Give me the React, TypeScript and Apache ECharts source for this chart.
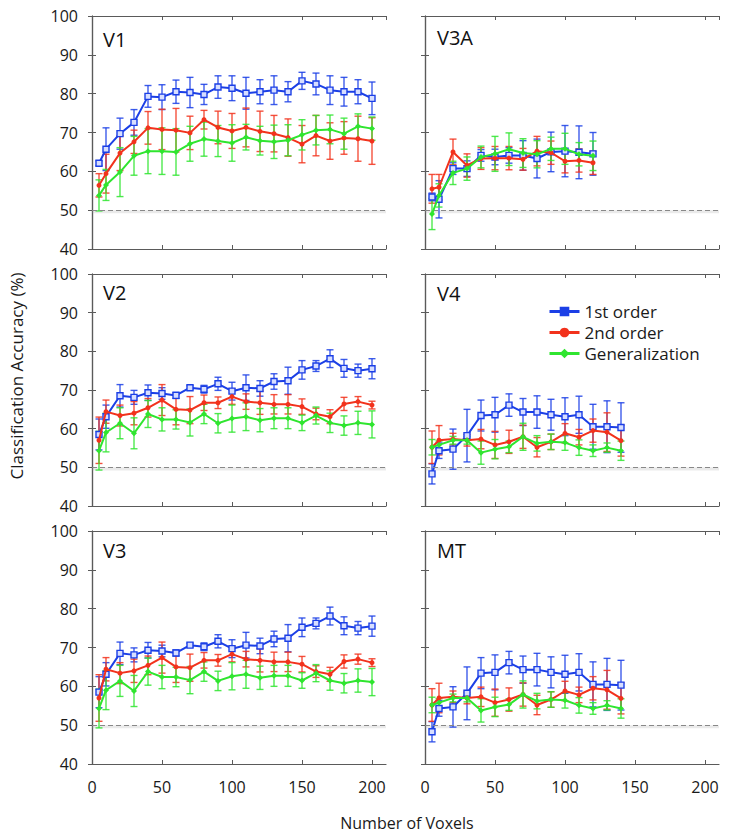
import React, { useEffect, useRef } from "react";
import * as echarts from "echarts";

// x values (number of voxels)
const xFull = [5, 10, 20, 30, 40, 50, 60, 70, 80, 90, 100, 110, 120, 130, 140, 150, 160, 170, 180, 190, 200];
const xV3A = xFull.slice(0, 13);
const xV4 = xFull.slice(0, 15);

const chanceLevel = 50;

const seriesNames = ["1st order", "2nd order", "Generalization"];
const panelNames = ["V1", "V3A", "V2", "V4", "V3", "MT"];

// V1
const v1Blue = [62.1, 65.7, 69.7, 72.6, 79.3, 79.1, 80.5, 80.3, 79.8, 81.7, 81.4, 80.1, 80.5, 80.9, 80.5, 83.3, 82.5, 80.9, 80.5, 80.5, 78.8];
const v1BlueErr = [0.6, 5.5, 4, 3.3, 2.8, 3.2, 3, 3.9, 2.6, 2.9, 3.2, 4.1, 3.1, 3.7, 2.6, 2.2, 2.8, 3.7, 3.7, 3.1, 4.2];
const v1Red = [56.4, 59.4, 64.7, 67.6, 71.2, 70.8, 70.6, 69.9, 73.3, 71.3, 70.4, 71.3, 70.3, 69.7, 68.7, 67, 69.2, 67.8, 68.6, 68.4, 67.8];
const v1RedErr = [3, 5, 4.5, 3, 4.2, 5.2, 5.6, 4.3, 2.4, 4.2, 4.5, 5, 5.2, 4.7, 4.8, 4.8, 5.2, 4.7, 4.2, 5.8, 6];
const v1Green = [53.8, 56.5, 59.8, 64, 65.2, 65.2, 65, 67.1, 68.3, 67.8, 67.3, 68.8, 67.9, 67.6, 68, 69.4, 70.6, 70.8, 69.7, 71.6, 71];
const v1GreenErr = [4, 4, 6.3, 5, 5.8, 6, 6, 4.5, 4.4, 4, 4.7, 3.3, 3.7, 4.3, 4, 3.9, 3.8, 3.7, 4, 3.2, 3];

// V3A
const v3aBlue = [53.4, 52.8, 60.7, 60.7, 64.1, 63.7, 64.1, 64.1, 63.3, 65, 65.2, 64.9, 64.5];
const v3aBlueErr = [1, 4.8, 1.5, 2, 1.5, 2, 2, 3.8, 5, 5.1, 6.6, 6.8, 5.5];
const v3aRed = [55.5, 55.9, 65, 61.5, 63.3, 63.4, 63.4, 63.1, 65.2, 64.8, 62.6, 62.8, 62.2];
const v3aRedErr = [3.7, 3.3, 3.3, 3, 2.8, 3, 3, 2.8, 3.8, 3, 3, 3, 3];
const v3aGreen = [49, 53.8, 59.6, 60.7, 63.7, 64.5, 65.7, 64.7, 64.4, 65.8, 65.8, 64.4, 64];
const v3aGreenErr = [4, 3, 3, 3, 2.8, 4.5, 4.2, 3.7, 3.5, 3, 4, 3, 3.8];

// V2
const v2Blue = [58.5, 63.1, 68.5, 68.1, 69.3, 69.1, 68.6, 70.6, 70.2, 71.6, 69.7, 70.6, 70.4, 72.2, 72.4, 75.2, 76.2, 78.1, 75.6, 75, 75.5];
const v2BlueErr = [4, 3, 2.9, 1.8, 2, 1.5, 0.8, 0.5, 1, 1.7, 2.3, 3.3, 2, 2, 3.5, 2.4, 1.4, 2.3, 2.3, 1.7, 2.6];
const v2Red = [57, 64.4, 63.4, 64, 65.4, 67.4, 65, 64.8, 66.7, 66.7, 68.3, 67, 66.7, 66.3, 66.3, 65.7, 63.8, 63.1, 66.4, 67, 66.1];
const v2RedErr = [6, 3, 2.7, 3, 2.4, 4, 4, 3.5, 2, 1.5, 2, 2, 3, 2.5, 2.5, 2, 1.5, 1.8, 1.7, 1.3, 1];
const v2Green = [54.3, 59, 61.4, 58.8, 63.8, 62.4, 62.4, 61.6, 63.8, 61.4, 62.6, 63.1, 62.2, 62.7, 62.7, 61.5, 63.4, 61.5, 60.8, 61.5, 61.1];
const v2GreenErr = [5, 5, 4, 4, 3.5, 3, 2.5, 3.5, 2.5, 2.5, 3.5, 3.6, 3, 2.7, 2.7, 2, 2.2, 2.5, 2.5, 3, 3.5];

// V4
const v4Blue = [48.3, 54.3, 54.7, 58.2, 63.4, 63.6, 66.1, 64.3, 64.3, 63.6, 63.1, 63.6, 60.5, 60.5, 60.3];
const v4BlueErr = [2.6, 2, 5.2, 6.8, 4, 4.5, 2.9, 3.5, 4.2, 4, 4.9, 4.8, 5.8, 6.7, 6.4];
const v4Red = [55.2, 57, 57.3, 57, 57.3, 55.8, 56.6, 57.9, 55.2, 56.6, 58.8, 57.8, 59.5, 59.1, 56.9];
const v4RedErr = [4.2, 3.8, 1.5, 1.5, 2.5, 3.5, 3, 3, 2.5, 2, 2.5, 2, 3, 5, 4];
const v4Green = [55.2, 55.8, 57, 57, 53.8, 54.7, 55.3, 57.9, 56.2, 56.6, 56.4, 55.1, 54.3, 55.1, 54.3];
const v4GreenErr = [2, 1, 1, 1, 3, 2.5, 1.5, 3.5, 2, 2, 2, 2, 1.5, 1.2, 2.5];

// V3 (same values as V2 in the figure)
const v3Blue = [58.5, 63.1, 68.5, 68.1, 69.3, 69.1, 68.6, 70.6, 70.2, 71.6, 69.7, 70.6, 70.4, 72.2, 72.4, 75.2, 76.2, 78.1, 75.6, 75, 75.5];
const v3BlueErr = [4, 3, 2.9, 1.8, 2, 1.5, 0.8, 0.5, 1, 1.7, 2.3, 3.3, 2, 2, 3.5, 2.4, 1.4, 2.3, 2.3, 1.7, 2.6];
const v3Red = [57, 64.4, 63.4, 64, 65.4, 67.4, 65, 64.8, 66.7, 66.7, 68.3, 67, 66.7, 66.3, 66.3, 65.7, 63.8, 63.1, 66.4, 67, 66.1];
const v3RedErr = [6, 3, 2.7, 3, 2.4, 4, 4, 3.5, 2, 1.5, 2, 2, 3, 2.5, 2.5, 2, 1.5, 1.8, 1.7, 1.3, 1];
const v3Green = [54.3, 59, 61.4, 58.8, 63.8, 62.4, 62.4, 61.6, 63.8, 61.4, 62.6, 63.1, 62.2, 62.7, 62.7, 61.5, 63.4, 61.5, 60.8, 61.5, 61.1];
const v3GreenErr = [5, 5, 4, 4, 3.5, 3, 2.5, 3.5, 2.5, 2.5, 3.5, 3.6, 3, 2.7, 2.7, 2, 2.2, 2.5, 2.5, 3, 3.5];

// MT (same values as V4 in the figure)
const mtBlue = [48.3, 54.3, 54.7, 58.2, 63.4, 63.6, 66.1, 64.3, 64.3, 63.6, 63.1, 63.6, 60.5, 60.5, 60.3];
const mtBlueErr = [2.6, 2, 5.2, 6.8, 4, 4.5, 2.9, 3.5, 4.2, 4, 4.9, 4.8, 5.8, 6.7, 6.4];
const mtRed = [55.2, 57, 57.3, 57, 57.3, 55.8, 56.6, 57.9, 55.2, 56.6, 58.8, 57.8, 59.5, 59.1, 56.9];
const mtRedErr = [4.2, 3.8, 1.5, 1.5, 2.5, 3.5, 3, 3, 2.5, 2, 2.5, 2, 3, 5, 4];
const mtGreen = [55.2, 55.8, 57, 57, 53.8, 54.7, 55.3, 57.9, 56.2, 56.6, 56.4, 55.1, 54.3, 55.1, 54.3];
const mtGreenErr = [2, 1, 1, 1, 3, 2.5, 1.5, 3.5, 2, 2, 2, 2, 1.5, 1.2, 2.5];

const BLUE = "#1b3fe6";
const RED = "#f2321c";
const GREEN = "#2fe52f";
const AXIS = "#5a5a5a";
const FONT = "'Open Sans', 'DejaVu Sans', sans-serif";

const panels = [
  { x: xFull, s: [[v1Blue, v1BlueErr], [v1Red, v1RedErr], [v1Green, v1GreenErr]] },
  { x: xV3A, s: [[v3aBlue, v3aBlueErr], [v3aRed, v3aRedErr], [v3aGreen, v3aGreenErr]] },
  { x: xFull, s: [[v2Blue, v2BlueErr], [v2Red, v2RedErr], [v2Green, v2GreenErr]] },
  { x: xV4, s: [[v4Blue, v4BlueErr], [v4Red, v4RedErr], [v4Green, v4GreenErr]] },
  { x: xFull, s: [[v3Blue, v3BlueErr], [v3Red, v3RedErr], [v3Green, v3GreenErr]] },
  { x: xV4, s: [[mtBlue, mtBlueErr], [mtRed, mtRedErr], [mtGreen, mtGreenErr]] },
];

export default function App() {
  const ref = useRef<HTMLDivElement>(null);
  useEffect(() => {
    if (!ref.current) return;
    const chart = echarts.init(ref.current, null, { renderer: "svg" });
    const colors = [BLUE, RED, GREEN];
    const rowTops = [16, 274, 531];
    const rowH = [233, 232, 233];
    const colLefts = [92, 425];
    const W = 294;
    const grids: any[] = [];
    const xAxes: any[] = [];
    const yAxes: any[] = [];
    const series: any[] = [];
    const graphics: any[] = [];
    const labelPos = [
      [103, 42],
      [437, 40],
      [103, 295],
      [437, 296],
      [103, 553],
      [437, 553],
    ];

    panels.forEach((p, i) => {
      const row = Math.floor(i / 2);
      const col = i % 2;
      grids.push({ left: colLefts[col], top: rowTops[row], width: W, height: rowH[row] });
      const tick = { show: true, inside: true, length: 4, lineStyle: { color: AXIS, width: 1 } };
      const line = { show: true, lineStyle: { color: AXIS, width: 1.2 } };
      xAxes.push({
        type: "value", gridIndex: i, min: 0, max: 210, interval: 50, position: "bottom",
        axisLine: line, axisTick: tick, splitLine: { show: false },
        axisLabel: {
          show: row === 2, showMaxLabel: false, margin: 15,
          fontFamily: FONT, fontSize: 16, color: "#1a1a1a",
        },
      });
      xAxes.push({
        type: "value", gridIndex: i, min: 0, max: 210, interval: 50, position: "top",
        axisLine: line, axisTick: tick, splitLine: { show: false }, axisLabel: { show: false },
      });
      yAxes.push({
        type: "value", gridIndex: i, min: 40, max: 100, interval: 10, position: "left",
        axisLine: line, axisTick: tick, splitLine: { show: false },
        axisLabel: { show: col === 0, margin: 14, fontFamily: FONT, fontSize: 16, color: "#1a1a1a" },
      });
      yAxes.push({
        type: "value", gridIndex: i, min: 40, max: 100, interval: 10, position: "right",
        axisLine: line, axisTick: tick, splitLine: { show: false }, axisLabel: { show: false },
      });

      p.s.forEach((pair, k) => {
        const vals = pair[0] as number[];
        const errs = pair[1] as number[];
        const c = colors[k];
        series.push({
          type: "custom",
          name: seriesNames[k] + " error",
          xAxisIndex: 2 * i,
          yAxisIndex: 2 * i,
          silent: true,
          z: 2,
          data: p.x.map((xv, j) => [xv, vals[j], errs[j]]),
          renderItem: (params: any, api: any) => {
            const xv = api.value(0);
            const yv = api.value(1);
            const e = api.value(2);
            const top = api.coord([xv, yv + e]);
            const bot = api.coord([xv, yv - e]);
            const hw = 3.5;
            const st = { stroke: c, lineWidth: 1.4, opacity: 0.85 };
            return {
              type: "group",
              children: [
                { type: "line", shape: { x1: top[0], y1: top[1], x2: bot[0], y2: bot[1] }, style: st },
                { type: "line", shape: { x1: top[0] - hw, y1: top[1], x2: top[0] + hw, y2: top[1] }, style: st },
                { type: "line", shape: { x1: bot[0] - hw, y1: bot[1], x2: bot[0] + hw, y2: bot[1] }, style: st },
              ],
            };
          },
        });
        const lineSeries: any = {
          type: "line",
          name: seriesNames[k],
          xAxisIndex: 2 * i,
          yAxisIndex: 2 * i,
          data: p.x.map((xv, j) => [xv, vals[j]]),
          z: 3 + k,
          lineStyle: { color: c, width: 2 },
          symbol: k === 0 ? "rect" : k === 1 ? "circle" : "diamond",
          symbolSize: k === 0 ? 6 : k === 1 ? 5 : 6,
          itemStyle:
            k === 0
              ? { color: "#d7deff", borderColor: c, borderWidth: 1.4 }
              : { color: c, borderColor: c, borderWidth: 0 },
          emphasis: { disabled: true },
        };
        if (k === 0) {
          lineSeries.markLine = {
            silent: true,
            symbol: "none",
            label: { show: false },
            lineStyle: { color: "#888", type: [5, 3], width: 1.2 },
            data: [{ yAxis: chanceLevel }],
          };
          lineSeries.markArea = {
            silent: true,
            itemStyle: { color: "rgba(150,150,150,0.2)" },
            data: [[{ yAxis: chanceLevel - 0.8 }, { yAxis: chanceLevel }]],
          };
        }
        series.push(lineSeries);
      });

      graphics.push({
        type: "text",
        left: labelPos[i][0],
        top: labelPos[i][1] - 13,
        style: { text: panelNames[i], font: `20px ${FONT}`, fill: "#111" },
      });
    });

    graphics.push({
      type: "text",
      x: 16,
      y: 376,
      rotation: Math.PI / 2,
      style: {
        text: "Classification Accuracy (%)",
        font: `17px ${FONT}`,
        fill: "#1a1a1a",
        textAlign: "center",
        textVerticalAlign: "middle",
      },
    });
    graphics.push({
      type: "text",
      x: 407,
      y: 823,
      style: {
        text: "Number of Voxels",
        font: `16px ${FONT}`,
        fill: "#1a1a1a",
        textAlign: "center",
        textVerticalAlign: "middle",
      },
    });

    chart.setOption({
      animation: false,
      grid: grids,
      xAxis: xAxes,
      yAxis: yAxes,
      series,
      graphic: graphics,
      legend: {
        left: 543,
        top: 298,
        orient: "vertical",
        itemWidth: 30,
        itemHeight: 12,
        itemGap: 4,
        selectedMode: false,
        textStyle: { fontFamily: FONT, fontSize: 17, color: "#1a1a1a" },
        data: [
          { name: seriesNames[0], itemStyle: { color: BLUE, borderColor: BLUE, borderWidth: 0 }, lineStyle: { width: 3 } },
          { name: seriesNames[1], itemStyle: { color: RED, borderColor: RED, borderWidth: 0 }, lineStyle: { width: 3 } },
          { name: seriesNames[2], itemStyle: { color: GREEN, borderColor: GREEN, borderWidth: 0 }, lineStyle: { width: 3 } },
        ],
      },
    });
    return () => chart.dispose();
  }, []);
  return <div ref={ref} style={{ width: 729, height: 836, position: "absolute", left: 0, top: 0 }} />;
}
